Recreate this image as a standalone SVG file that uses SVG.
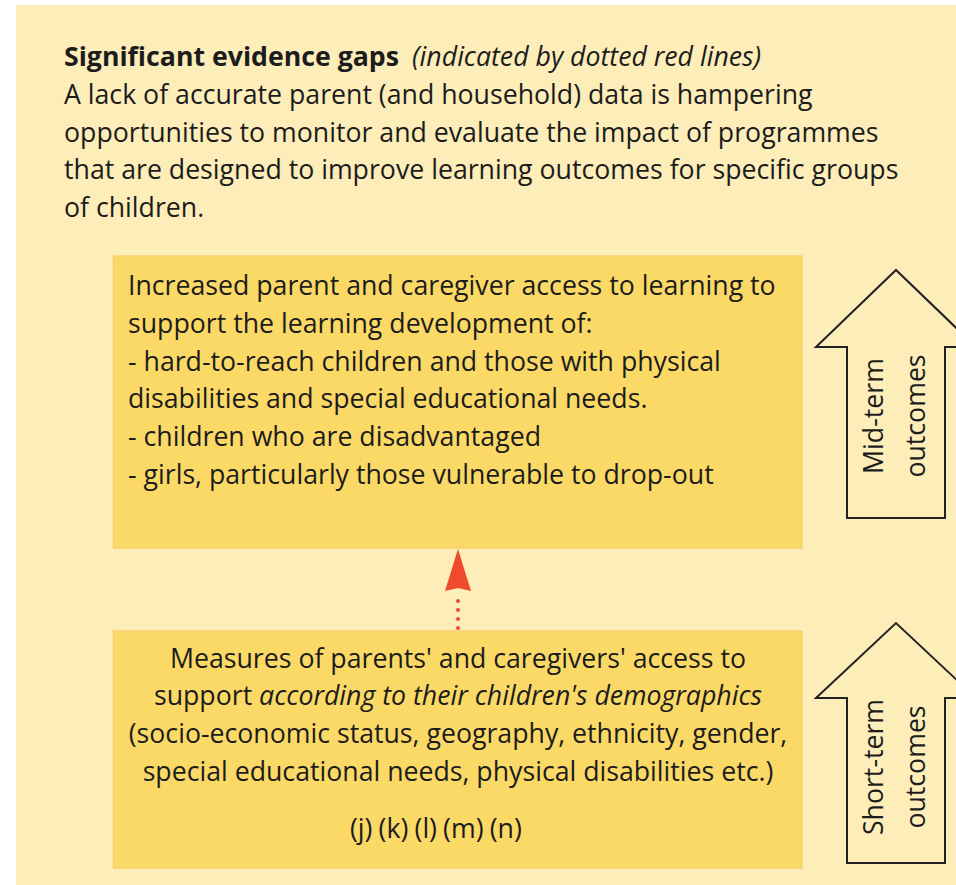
<svg xmlns="http://www.w3.org/2000/svg" width="956" height="885" viewBox="0 0 956 885">
<style>
  text { font-family: "Open Sans", "Noto Sans", "DejaVu Sans", sans-serif; font-size: 26.7px; fill: #1c1c1c; }
  .b { font-weight: bold; }
  .i { font-style: italic; }
  .mid { text-anchor: middle; }
  .box { fill: #FBD966; stroke: #F8CF72; stroke-width: 1.5; }
  .big { fill: none; stroke: #222; stroke-width: 2; stroke-linejoin: miter; }
  .gap { stroke: #EE4A2B; stroke-width: 4; stroke-linecap: round; stroke-dasharray: 0 9; fill: none; }
  .gaphead { fill: #EE4A2B; }
</style>
<rect x="16" y="5" width="940" height="880" fill="#FCEDB9"/>

<g id="header">
  <text x="64" y="66" class="b">Significant evidence gaps</text>
  <text x="412" y="66" class="i">(indicated by dotted red lines)</text>
  <text x="64" y="104">A lack of accurate parent (and household) data is hampering</text>
  <text x="64" y="141.5">opportunities to monitor and evaluate the impact of programmes</text>
  <text x="64" y="179">that are designed to improve learning outcomes for specific groups</text>
  <text x="64" y="216.5">of children.</text>
</g>

<g id="node-midterm">
  <rect class="box" x="113.5" y="256" width="688.5" height="292"/>
  <text x="128" y="295">Increased parent and caregiver access to learning to</text>
  <text x="128" y="333">support the learning development of:</text>
  <text x="128" y="370.5">- hard-to-reach children and those with physical</text>
  <text x="128" y="408">disabilities and special educational needs.</text>
  <text x="128" y="446">- children who are disadvantaged</text>
  <text x="128" y="484">- girls, particularly those vulnerable to drop-out</text>
</g>

<g id="node-shortterm">
  <rect class="box" x="113.5" y="631" width="688.5" height="237"/>
  <text x="458" y="667.5" class="mid">Measures of parents' and caregivers' access to</text>
  <text x="458" y="705" class="mid">support <tspan class="i">according to their children's demographics</tspan></text>
  <text x="458" y="743" class="mid">(socio-economic status, geography, ethnicity, gender,</text>
  <text x="458" y="780.5" class="mid">special educational needs, physical disabilities etc.)</text>
  <text x="350" y="838" word-spacing="-0.8">(j) (k) (l) (m) (n)</text>
</g>

<g id="arrow-midterm-outcomes">
  <path class="big" d="M847,518 L847,347 L816,347 L896,270 L976,347 L945,347 L945,518 Z"/>
  <text class="mid" transform="translate(883,416) rotate(-90)">Mid-term</text>
  <text class="mid" transform="translate(925,416) rotate(-90)">outcomes</text>
</g>

<g id="arrow-shortterm-outcomes">
  <path class="big" d="M847,863 L847,698 L816,698 L896,623 L976,698 L945,698 L945,863 Z"/>
  <text class="mid" transform="translate(883,767) rotate(-90)">Short-term</text>
  <text class="mid" transform="translate(925,767) rotate(-90)">outcomes</text>
</g>

<g id="connectors">
  <line class="gap" x1="458" y1="628" x2="458" y2="592"/>
  <path class="gaphead" d="M458,549 L471,591 L458,588 L445,591 Z"/>
</g>
</svg>
